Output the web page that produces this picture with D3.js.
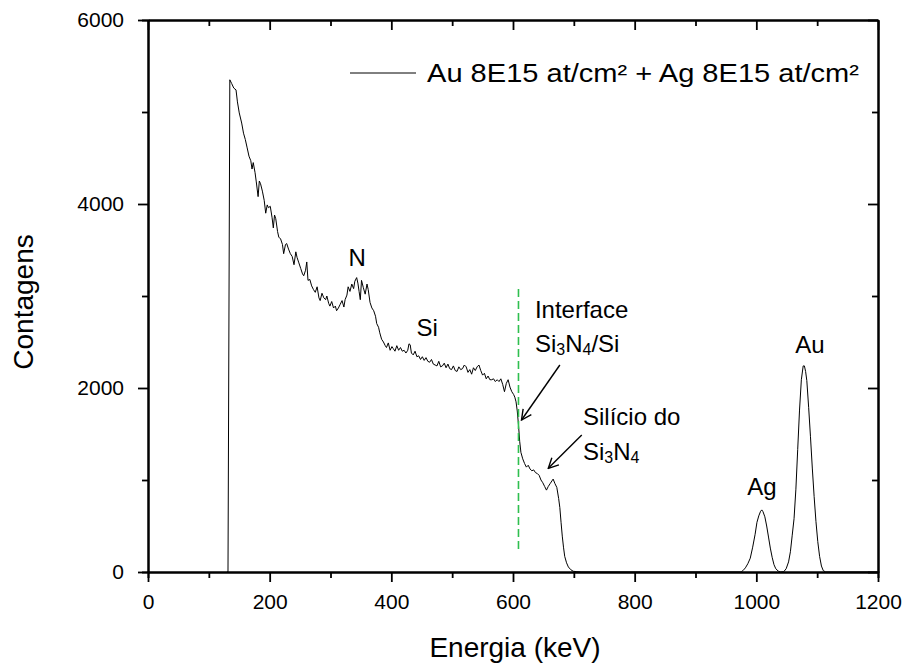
<!DOCTYPE html>
<html>
<head>
<meta charset="utf-8">
<script src="https://cdn.jsdelivr.net/npm/d3@7"></script>
<style>
  html, body { margin: 0; padding: 0; background: #fff; }
  svg { display: block; font-family: "Liberation Sans", Arial, sans-serif; }
</style>
</head>
<body>
<div id="chart"></div>
<script>
// RBS spectrum, Au 8E15 + Ag 8E15 at/cm2 on Si3N4/Si  [energy keV, counts]
const substrate = [
  [130, 0], [131.5, 0], [134.5, 5350], [137.5, 5310], [141, 5260], [144.7, 5240], [147, 5110],
  [150, 4990], [154, 4880], [157, 4770], [160, 4700], [163, 4610], [166, 4520], [169, 4470],
  [171, 4380], [173, 4450], [176, 4340], [178, 4240], [181, 4080], [183, 4250], [185, 4220],
  [188, 4140], [191, 4040], [193.5, 3900], [196, 3990], [198, 3960], [201, 3975], [204, 3850],
  [206, 3740], [208, 3880], [210, 3840], [213, 3700], [215, 3640], [218, 3620], [221, 3560],
  [223, 3460], [226, 3560], [228, 3570], [231, 3510], [234, 3460], [237, 3430], [240, 3340],
  [243, 3480], [245, 3420], [248, 3360], [251, 3300], [254, 3240], [256, 3220], [259, 3280],
  [261, 3370], [263, 3170], [266, 3180], [269, 3110], [272, 3070], [275, 3040], [278, 3100],
  [281, 2980], [283, 2950], [286, 3030], [289, 2980], [292, 2960], [294, 3000], [297, 2920],
  [299, 2890], [302, 2940], [305, 2870], [308, 2890], [310, 2840], [313, 2870], [316, 2910],
  [319, 2950], [322, 2880], [324, 2960], [327, 3010], [329, 3100], [332, 3050], [335, 3130],
  [338, 3080], [340, 3160], [343, 3200], [345, 3140], [347, 3050], [349, 2960], [351, 3170],
  [354, 3090], [357, 3020], [360, 3130], [362, 3070], [365, 2930], [368, 2870], [371, 2840],
  [374, 2780], [376, 2700], [379, 2660], [381, 2600], [384, 2530], [387, 2500], [390, 2460],
  [392, 2440], [395, 2490], [398, 2410], [401, 2450], [403, 2430], [406, 2400], [409, 2460],
  [412, 2410], [415, 2440], [418, 2400], [421, 2410], [424, 2380], [427, 2410], [429, 2480],
  [431, 2470], [433, 2380], [436, 2360], [439, 2400], [442, 2340], [445, 2350], [448, 2310],
  [451, 2340], [454, 2300], [457, 2330], [460, 2290], [463, 2280], [466, 2310], [469, 2260],
  [472, 2250], [475, 2240], [478, 2290], [481, 2230], [484, 2240], [487, 2270], [490, 2220],
  [493, 2260], [496, 2210], [499, 2200], [502, 2240], [505, 2190], [508, 2180], [511, 2230],
  [514, 2200], [517, 2210], [520, 2250], [523, 2230], [526, 2170], [529, 2200], [532, 2150],
  [535, 2220], [538, 2190], [541, 2230], [544, 2250], [547, 2190], [550, 2140], [553, 2160],
  [556, 2100], [559, 2130], [562, 2090], [565, 2090], [568, 2100], [571, 2070], [574, 2090],
  [577, 2070], [580, 2100], [583, 2040], [586, 1960], [589, 2050], [592, 2090], [595, 2010],
  [598, 1960], [601, 1930], [603, 1900], [605, 1850], [607, 1750], [609, 1600], [611, 1420],
  [613, 1300], [616, 1230], [619, 1180], [622, 1140], [625, 1160], [628, 1120], [631, 1100],
  [634, 1110], [637, 1080], [640, 1070], [643, 1050], [646, 1000], [649, 970], [652, 930],
  [655, 890], [658, 930], [661, 960], [664, 990], [666, 1010], [669, 960], [672, 920],
  [675, 800], [677, 700], [679, 540], [681, 390], [683, 270], [685, 170], [688, 100],
  [691, 55], [695, 25], [699, 8], [705, 3], [712, 0], [730, 0], [975, 0]
];

const agPeak = [
  [978, 15], [982, 45], [986, 90], [990, 150], [994, 270], [998, 410], [1001, 540],
  [1004, 610], [1007, 660], [1009, 675], [1011, 655], [1014, 600], [1017, 500], [1020, 380],
  [1023, 260], [1026, 160], [1029, 80], [1032, 35], [1036, 10], [1040, 0]
];

const auPeak = [
  [1045, 3], [1049, 35], [1053, 110], [1056, 220], [1059, 400], [1062, 580], [1065, 900],
  [1068, 1330], [1071, 1760], [1074, 2090], [1077, 2240], [1079, 2240], [1081, 2180],
  [1083, 2080], [1086, 1790], [1089, 1470], [1092, 1130], [1095, 820], [1098, 550],
  [1101, 330], [1104, 170], [1107, 65], [1110, 15], [1114, 0], [1200, 0]
];

const xTicks = [0, 200, 400, 600, 800, 1000, 1200];
const xMinorTicks = [100, 300, 500, 700, 900, 1100];
const yTicks = [0, 2000, 4000, 6000];
const yMinorTicks = [1000, 3000, 5000];

const seriesName = 'Au 8E15 at/cm² + Ag 8E15 at/cm²';
const interfaceEnergy = 609;
const interfaceRange = [250, 3100];

// text labels anchored in data units
const peakLabels = [
  { text: 'N', e: 344, c: 3330 },
  { text: 'Si', e: 459, c: 2565 },
  { text: 'Ag', e: 1009, c: 840 },
  { text: 'Au', e: 1088, c: 2380 }
];

const width = 906, height = 666;
const margin = { top: 20, right: 28, bottom: 94, left: 148 };
const iw = width - margin.left - margin.right;
const ih = height - margin.top - margin.bottom;

const svg = d3.select('#chart').append('svg')
  .attr('width', width)
  .attr('height', height);

const g = svg.append('g').attr('transform', `translate(${margin.left},${margin.top})`);

const x = d3.scaleLinear().domain([0, 1200]).range([0, iw]);
const y = d3.scaleLinear().domain([0, 6000]).range([ih, 0]);

// arrowhead
svg.append('defs').append('marker')
  .attr('id', 'arrow')
  .attr('viewBox', '0 0 12 12')
  .attr('refX', 11).attr('refY', 6)
  .attr('markerWidth', 12).attr('markerHeight', 12)
  .attr('markerUnits', 'userSpaceOnUse')
  .attr('orient', 'auto')
  .append('path')
  .attr('d', 'M1,1 L11,6 L1,11')
  .attr('fill', 'none')
  .attr('stroke', '#000')
  .attr('stroke-width', 1.4);

// spectrum
const spectrum = substrate.concat(agPeak, auPeak);
const line = d3.line().x(d => x(d[0])).y(d => y(d[1]));

g.append('path')
  .datum(spectrum)
  .attr('fill', 'none')
  .attr('stroke', '#000')
  .attr('stroke-width', 1)
  .attr('d', line);

// interface marker
g.append('line')
  .attr('x1', x(interfaceEnergy)).attr('x2', x(interfaceEnergy))
  .attr('y1', y(interfaceRange[0])).attr('y2', y(interfaceRange[1]))
  .attr('stroke', '#2fbf4f')
  .attr('stroke-width', 1.6)
  .attr('stroke-dasharray', '8,4');

// axes
function styleAxis(sel) {
  sel.select('.domain').attr('stroke-width', 2);
  sel.selectAll('.tick line').attr('stroke-width', 1.8);
  sel.selectAll('.tick text')
    .attr('font-size', 21)
    .attr('font-family', '"Liberation Sans", Arial, sans-serif')
    .attr('fill', '#000');
}

g.append('g').attr('transform', `translate(0,${ih})`)
  .call(d3.axisBottom(x).tickValues(xMinorTicks).tickSize(6).tickFormat(''))
  .call(styleAxis);
g.append('g').attr('transform', `translate(0,${ih})`)
  .call(d3.axisBottom(x).tickValues(xTicks).tickSize(10).tickSizeOuter(0).tickPadding(12).tickFormat(d3.format('d')))
  .call(styleAxis);

g.append('g')
  .call(d3.axisLeft(y).tickValues(yMinorTicks).tickSize(6).tickFormat(''))
  .call(styleAxis);
g.append('g')
  .call(d3.axisLeft(y).tickValues(yTicks).tickSize(10).tickSizeOuter(0).tickPadding(14).tickFormat(d3.format('d')))
  .call(styleAxis);

// mirrored frame, ticks pointing inward
g.append('g')
  .call(d3.axisBottom(x).tickValues(xTicks).tickSize(10).tickSizeOuter(0).tickFormat(''))
  .call(styleAxis);
g.append('g')
  .call(d3.axisBottom(x).tickValues(xMinorTicks).tickSize(6).tickSizeOuter(0).tickFormat(''))
  .call(styleAxis);
g.append('g').attr('transform', `translate(${iw},0)`)
  .call(d3.axisLeft(y).tickValues(yTicks).tickSize(10).tickSizeOuter(0).tickFormat(''))
  .call(styleAxis);
g.append('g').attr('transform', `translate(${iw},0)`)
  .call(d3.axisLeft(y).tickValues(yMinorTicks).tickSize(6).tickSizeOuter(0).tickFormat(''))
  .call(styleAxis);

// axis titles
svg.append('text')
  .attr('x', margin.left + iw / 2 + 2)
  .attr('y', 657)
  .attr('text-anchor', 'middle')
  .attr('font-size', 28)
  .text('Energia (keV)');

svg.append('text')
  .attr('transform', `translate(33,${margin.top + ih / 2 + 6}) rotate(-90)`)
  .attr('text-anchor', 'middle')
  .attr('font-size', 28)
  .text('Contagens');

// legend
const legend = svg.append('g').attr('transform', 'translate(350,73)');
legend.append('line')
  .attr('x1', 0).attr('x2', 66)
  .attr('stroke', '#000').attr('stroke-width', 1);
legend.append('text')
  .attr('x', 77).attr('y', 9)
  .attr('font-size', 26)
  .attr('textLength', 432)
  .attr('lengthAdjust', 'spacingAndGlyphs')
  .text(seriesName);

// peak labels
g.selectAll('text.peak')
  .data(peakLabels)
  .join('text')
  .attr('class', 'peak')
  .attr('x', d => x(d.e))
  .attr('y', d => y(d.c))
  .attr('text-anchor', 'middle')
  .attr('font-size', 24)
  .text(d => d.text);

// "Si3N4" with subscripts
function formula(sel, tail) {
  sel.append('tspan').text('Si');
  sel.append('tspan').attr('font-size', 16).attr('dy', 3).text('3');
  sel.append('tspan').attr('dy', -3).text('N');
  sel.append('tspan').attr('font-size', 16).attr('dy', 3).text('4');
  if (tail) sel.append('tspan').attr('dy', -3).text(tail);
}

const note1 = g.append('g').attr('font-size', 24);
note1.append('text').attr('x', x(636)).attr('y', y(2761)).text('Interface');
note1.append('text').attr('x', x(636)).attr('y', y(2391)).call(formula, '/Si');

const note2 = g.append('g').attr('font-size', 24);
note2.append('text').attr('x', x(715)).attr('y', y(1598)).text('Silício do');
note2.append('text').attr('x', x(715)).attr('y', y(1217)).call(formula, null);

// arrows
const arrows = [
  { from: [677, 2250], to: [614, 1652] },
  { from: [713, 1489], to: [658, 1127] }
];
g.selectAll('line.arrow')
  .data(arrows)
  .join('line')
  .attr('class', 'arrow')
  .attr('x1', d => x(d.from[0])).attr('y1', d => y(d.from[1]))
  .attr('x2', d => x(d.to[0])).attr('y2', d => y(d.to[1]))
  .attr('stroke', '#000')
  .attr('stroke-width', 1.4)
  .attr('marker-end', 'url(#arrow)');
</script>
</body>
</html>
